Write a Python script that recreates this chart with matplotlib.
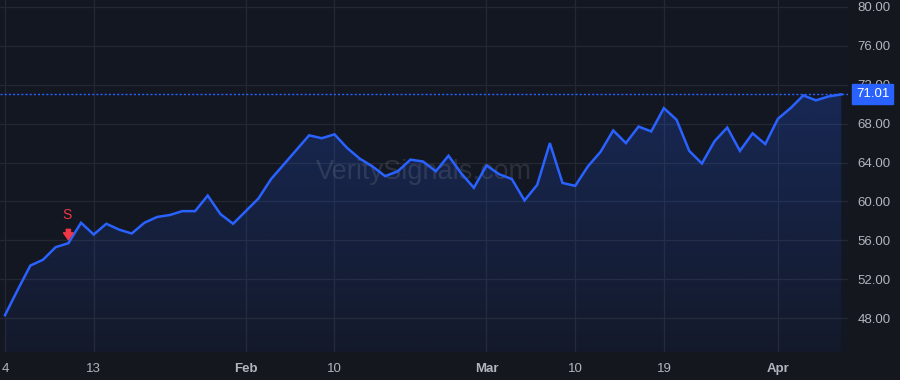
import numpy as np
import matplotlib
matplotlib.use("Agg")
import matplotlib.pyplot as plt
import matplotlib.transforms as mtransforms

# close prices, one per trading day (Jan 4 .. Apr 9)
prices = [48.3, 50.9, 53.4, 54.0, 55.3, 55.7, 57.8, 56.6, 57.7, 57.1,
          56.7, 57.8, 58.4, 58.6, 59.0, 59.0, 60.6, 58.7, 57.7, 59.0,
          60.3, 62.3, 63.8, 65.3, 66.8, 66.5, 66.9, 65.5, 64.4, 63.6,
          62.6, 63.1, 64.3, 64.1, 63.1, 64.7, 62.9, 61.4, 63.7, 62.8,
          62.3, 60.1, 61.7, 66.0, 61.9, 61.6, 63.6, 65.1, 67.3, 66.0,
          67.7, 67.2, 69.6, 68.4, 65.2, 63.9, 66.2, 67.6, 65.2, 67.0,
          65.9, 68.5, 69.6, 70.9, 70.4, 70.8, 71.01]
tick_idx = [0, 7, 19, 26, 38, 45, 52, 61]
tick_labels = ["4", "13", "Feb", "10", "Mar", "10", "19", "Apr"]
month_labels = {"Feb", "Mar", "Apr"}
y_ticks = [48, 52, 56, 60, 64, 68, 72, 76, 80]
signal_idx = 5
signal_text = "S"
last_price = prices[-1]

BG = "#131722"
FIG_BG = "#15171e"
GRID = "#242833"
LINE = "#2962ff"
TXT = "#b2b5be"
RED = "#f23645"

plt.rcParams["font.family"] = ["Liberation Sans", "DejaVu Sans"]

fig = plt.figure(figsize=(9, 3.8), dpi=100, facecolor=FIG_BG)
ax = fig.add_axes([0, 28 / 380, 848 / 900, 352 / 380])
ax.set_facecolor(BG)

x = np.arange(len(prices))
y_bottom = 44.51

# gradient area under the line
fill = ax.fill_between(x, prices, y_bottom, color="none", lw=0)
grad = np.zeros((100, 1, 4))
grad[:, 0, 0] = 41 / 255
grad[:, 0, 1] = 98 / 255
grad[:, 0, 2] = 1.0
grad[:, 0, 3] = np.linspace(0.23, 0.04, 100)
im = ax.imshow(grad, aspect="auto", extent=[x[0], x[-1], y_bottom, max(prices)],
               origin="upper", zorder=1)
im.set_clip_path(fill.get_paths()[0], transform=ax.transData)
ax.set_xlim(-0.395, 66.53)
ax.set_ylim(y_bottom, 80.72)

ax.plot(x, prices, color=LINE, lw=1.8, zorder=3, solid_joinstyle="miter")
ax.axhline(last_price, color=LINE, lw=1, ls=(0, (1.5, 1.5)), zorder=2)

# grid and ticks
ax.set_xticks(tick_idx)
ax.set_yticks(y_ticks)
ax.grid(True, color=GRID, lw=0.9)
ax.set_axisbelow(True)
for s in ax.spines.values():
    s.set_visible(False)
ax.tick_params(axis="both", length=0, colors=TXT, labelsize=9.5)
ax.yaxis.tick_right()
ax.tick_params(axis="y", pad=7)
ax.set_yticklabels([f"{v:.2f}" for v in y_ticks])
ax.set_xticklabels(tick_labels)
ax.tick_params(axis="x", pad=8)
for lab in ax.get_xticklabels():
    if lab.get_text() in month_labels:
        lab.set_fontweight("bold")

# watermark
ax.text(0.5, 0.511, "VeritySignals.com", transform=ax.transAxes,
        ha="center", va="center", fontsize=19.5, color="#9598a1",
        alpha=0.2, zorder=2)

# sell signal marker
sx, sy = x[signal_idx], prices[signal_idx]
ax.annotate("", xy=(sx, sy), xytext=(0, 10), textcoords="offset points",
            xycoords="data", annotation_clip=False,
            arrowprops=dict(arrowstyle="simple,head_width=0.7,head_length=0.5,tail_width=0.3",
                            color=RED, shrinkA=0, shrinkB=2.5), zorder=4)
ax.annotate(signal_text, xy=(sx, sy), xytext=(-1, 15.5), textcoords="offset points",
            ha="center", va="bottom", color=RED, fontsize=10, zorder=4)

# last price label
tr = mtransforms.blended_transform_factory(ax.transAxes, ax.transData)
ax.text(1.0 + 8 / 848, last_price, f"{last_price:.2f}", transform=tr,
        ha="left", va="center", color="white", fontsize=9.5, zorder=10,
        clip_on=False,
        bbox=dict(boxstyle="square,pad=0.3", fc=LINE, ec=LINE))

fig.savefig("out.png", dpi=100, facecolor=FIG_BG)
